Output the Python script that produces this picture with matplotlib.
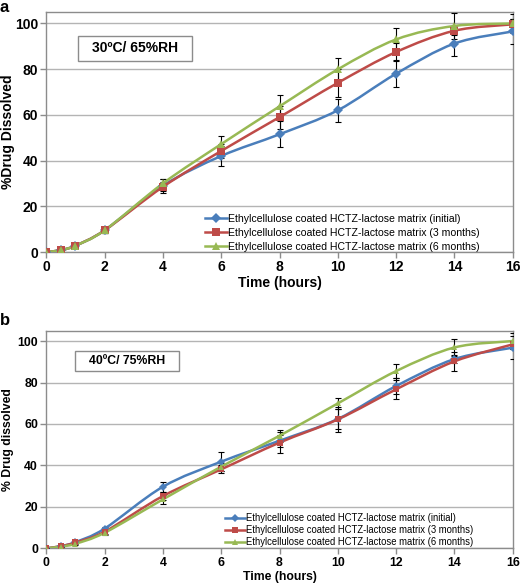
import numpy as np
import matplotlib
matplotlib.use('Agg')
import matplotlib.pyplot as plt
from matplotlib.path import Path
from matplotlib.patches import PathPatch, Rectangle
from matplotlib.lines import Line2D

plt.rcParams['font.family'] = ['Liberation Sans', 'DejaVu Sans']

# sampling times (hours)
time_h = [0, 0.5, 1, 2, 4, 6, 8, 10, 12, 14, 16]

labels = ['Ethylcellulose coated HCTZ-lactose matrix (initial)',
          'Ethylcellulose coated HCTZ-lactose matrix (3 months)',
          'Ethylcellulose coated HCTZ-lactose matrix (6 months)']

# panel a: 30C / 65%RH
a_initial = [0, 0.8, 2.8, 9.5, 29.0, 42.0, 51.5, 62.0, 78.0, 91.2, 96.5]
a_3months = [0, 0.8, 2.8, 9.5, 28.5, 44.2, 59.0, 74.0, 87.5, 96.8, 99.6]
a_6months = [0, 0.8, 2.8, 9.5, 30.0, 47.2, 63.7, 79.9, 93.0, 98.9, 100.0]
a_err_initial = [0, 0.3, 0.5, 1.0, 3.0, 4.5, 5.6, 5.0, 5.8, 5.5, 5.5]
a_err_3months = [0, 0.3, 0.5, 1.0, 2.0, 3.0, 5.0, 6.0, 4.0, 2.0, 2.5]
a_err_6months = [0, 0.3, 0.5, 1.0, 2.0, 3.5, 5.0, 5.0, 5.0, 5.5, 4.0]

# panel b: 40C / 75%RH
b_initial = [0, 1.0, 3.0, 9.5, 29.7, 41.8, 51.9, 62.4, 78.3, 91.3, 96.8]
b_3months = [0, 1.0, 2.8, 8.0, 25.2, 38.1, 51.0, 62.2, 76.7, 90.2, 98.4]
b_6months = [0, 0.8, 2.2, 7.5, 23.6, 39.4, 54.3, 69.9, 85.5, 96.9, 100.0]
b_err_initial = [0, 0.3, 0.5, 1.0, 2.5, 4.5, 3.0, 5.0, 4.0, 2.0, 5.6]
b_err_3months = [0, 0.3, 0.5, 1.0, 2.0, 2.0, 5.0, 6.0, 4.5, 4.5, 2.0]
b_err_6months = [0, 0.3, 0.5, 1.0, 2.0, 2.0, 3.0, 2.5, 3.5, 4.0, 4.0]

colors = ['#4A7EBB', '#BE4B48', '#98B954']
markers = ['D', 's', '^']


def smooth_path(x, y):
    # Excel-style smoothed line: cubic Bezier through the data points
    p = np.column_stack([x, y]).astype(float)
    n = len(p)
    verts = [p[0]]
    codes = [Path.MOVETO]
    for i in range(n - 1):
        p0 = p[i - 1] if i > 0 else p[i]
        p3 = p[i + 2] if i + 2 < n else p[i + 1]
        c1 = p[i] + (p[i + 1] - p0) / 6.0
        c2 = p[i + 1] - (p3 - p[i]) / 6.0
        verts += [c1, c2, p[i + 1]]
        codes += [Path.CURVE4] * 3
    return Path(verts, codes)


def draw_panel(ax, series, errors, fs, msizes, box_text, box_xy, legend_fs, leg_anchor, leg_spacing):
    ax.set_xlim(0, 16)
    ax.set_ylim(0, 105)
    ax.set_xticks(range(0, 17, 2))
    ax.set_yticks(range(0, 101, 20))
    ax.yaxis.grid(True, color='#B4B4B4', lw=1.0)
    ax.set_axisbelow(True)
    for s in ax.spines.values():
        s.set_color('#8C8C8C')
        s.set_linewidth(1.0)
    ax.tick_params(axis='both', length=4, color='#8C8C8C', width=1.0, labelsize=fs, pad=2)
    for t in ax.get_xticklabels() + ax.get_yticklabels():
        t.set_fontweight('bold')

    handles = []
    for k in range(3):
        ax.errorbar(time_h, series[k], yerr=errors[k], fmt='none', ecolor='black',
                    elinewidth=0.8, capsize=2.5, capthick=0.8, zorder=3)
    for k in range(3):
        ax.add_patch(PathPatch(smooth_path(time_h, series[k]), fill=False,
                               edgecolor=colors[k], lw=1.8, zorder=4))
        ax.plot(time_h, series[k], ls='none', marker=markers[k], color=colors[k],
                markersize=msizes[k], markeredgewidth=0, zorder=5)
        handles.append(Line2D([], [], color=colors[k], lw=1.8, marker=markers[k],
                              markersize=msizes[k], markeredgewidth=0))

    ax.legend(handles, labels, loc='lower right', bbox_to_anchor=leg_anchor,
              frameon=False, fontsize=legend_fs, handlelength=2.1, handletextpad=0.1,
              labelspacing=leg_spacing, borderpad=0, borderaxespad=0)

    x0, y0, w, h = box_xy
    ax.add_patch(Rectangle((x0, y0), w, h, transform=ax.transAxes, fill=True,
                           facecolor='white', edgecolor='#8C8C8C', lw=1.0, zorder=6))
    ax.text(x0 + w / 2, y0 + h / 2, box_text, transform=ax.transAxes, ha='center',
            va='center', fontsize=fs, fontweight='bold', zorder=7)


W, H = 520, 585
fig = plt.figure(figsize=(W / 100, H / 100), dpi=100)

# panel a: axes spans px x 46..513, y 12..252
ax1 = fig.add_axes([46.3 / W, 1 - 252 / H, 466.4 / W, 240 / H])
draw_panel(ax1, [a_initial, a_3months, a_6months],
           [a_err_initial, a_err_3months, a_err_6months],
           10, [5.5, 5.5, 6.0], '30ºC/ 65%RH',
           ((78 - 46.3) / 466.4, (252 - 60.5) / 240, 114 / 466.4, 24.5 / 240),
           7.6, ((480 - 46.3) / 466.4, 0.0), 0.37)

# panel b: axes spans px x 46..513, y 331..548
ax2 = fig.add_axes([46.3 / W, 1 - 548.3 / H, 466.4 / W, 217.6 / H])
draw_panel(ax2, [b_initial, b_3months, b_6months],
           [b_err_initial, b_err_3months, b_err_6months],
           8.8, [4.5, 4.5, 5.0], '40ºC/ 75%RH',
           ((75 - 46.3) / 466.4, (548.3 - 371.3) / 217.6, 104 / 466.4, 20.6 / 217.6),
           6.86, ((473 - 46.3) / 466.4, (548.3 - 547) / 217.6), 0.19)

fig.text(280 / W, 1 - 283 / H, 'Time (hours)', ha='center', va='center', fontsize=10, fontweight='bold')
fig.text(280 / W, 1 - 577 / H, 'Time (hours)', ha='center', va='center', fontsize=8.8, fontweight='bold')
fig.text(8 / W, 1 - 132 / H, '%Drug Dissolved', ha='center', va='center', rotation=90,
         fontsize=10, fontweight='bold')
fig.text(8 / W, 1 - 440 / H, '% Drug dissolved', ha='center', va='center', rotation=90,
         fontsize=8.8, fontweight='bold')
fig.text(0, 1.0, 'a', ha='left', va='top', fontsize=12, fontweight='bold')
fig.text(0, 1 - 313 / H, 'b', ha='left', va='top', fontsize=12, fontweight='bold')

fig.savefig('out.png', dpi=100, facecolor='white')
